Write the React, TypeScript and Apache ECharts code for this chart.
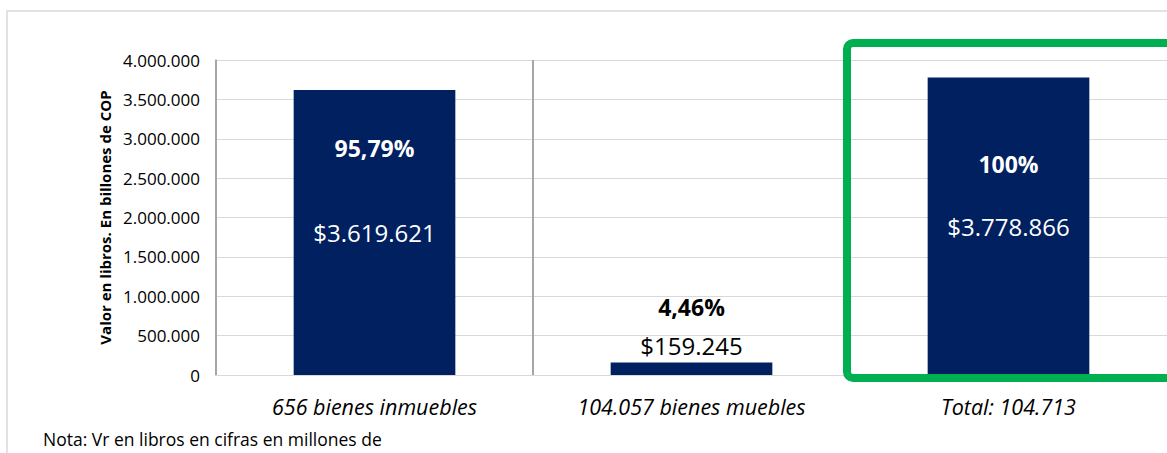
import React, { useEffect, useRef } from "react";
import * as echarts from "echarts";

const categories = ["656 bienes inmuebles", "104.057 bienes muebles", "Total: 104.713"];
const values = [3619621, 159245, 3778866];
const percents = [95.79, 4.46, 100];
const yMin = 0;
const yMax = 4000000;
const yInterval = 500000;
const yAxisTitle = "Valor en libros. En billones de COP";
const noteText = "Nota: Vr en libros en cifras en millones de";

const FONT = '"Open Sans", "Noto Sans", sans-serif';
const fmtNum = (n: number) => String(Math.round(n)).replace(/\B(?=(\d{3})+(?!\d))/g, ".");
const fmtPct = (p: number) => String(p).replace(".", ",") + "%";

export default function App() {
  const ref = useRef<HTMLDivElement>(null);
  useEffect(() => {
    if (!ref.current) return;
    const chart = echarts.init(ref.current, null, { renderer: "svg" });
    const pctLabelPlacement = [
      { position: "insideTop", distance: 47, color: "#ffffff" },
      { position: "top", distance: 44, color: "#000000" },
      { position: "insideTop", distance: 75, color: "#ffffff" },
    ];
    chart.setOption({
      animation: false,
      backgroundColor: "#ffffff",
      textStyle: { fontFamily: FONT },
      grid: { left: 216, right: -1.5, top: 60, bottom: 78, containLabel: false },
      xAxis: {
        type: "category",
        data: categories,
        boundaryGap: true,
        axisLine: { show: true, lineStyle: { color: "#d9d9d9", width: 1 } },
        axisTick: { show: false },
        axisLabel: {
          margin: 20,
          fontFamily: FONT,
          fontSize: 21.5,
          fontStyle: "italic",
          color: "#000000",
        },
        splitLine: { show: true, showMinLine: true, showMaxLine: false, lineStyle: { color: "#a6a6a6", width: 2 } },
      },
      yAxis: {
        type: "value",
        min: yMin,
        max: yMax,
        interval: yInterval,
        name: yAxisTitle,
        nameLocation: "middle",
        nameGap: 100,
        nameTextStyle: { fontFamily: FONT, fontSize: 15, fontWeight: "bold", color: "#000000" },
        axisLine: { show: true, lineStyle: { color: "#a6a6a6", width: 1.5 } },
        axisTick: { show: false },
        axisLabel: {
          margin: 16,
          fontFamily: FONT,
          fontSize: 17,
          color: "#000000",
          formatter: (v: number) => fmtNum(v),
        },
        splitLine: { show: true, lineStyle: { color: "#d9d9d9", width: 1 } },
      },
      series: [
        {
          type: "bar",
          barWidth: "51%",
          itemStyle: { color: "#002060" },
          data: values.map((v) => ({
            value: v,
            label:
              v > yMax / 4
                ? { show: true, position: "inside", color: "#ffffff" }
                : { show: true, position: "top", distance: 5, color: "#000000" },
          })),
          label: {
            show: true,
            fontFamily: FONT,
            fontSize: 24,
            formatter: (p: any) => "$" + fmtNum(p.value),
          },
          z: 2,
        },
        {
          type: "bar",
          barWidth: "51%",
          barGap: "-100%",
          itemStyle: { color: "rgba(0,0,0,0)" },
          silent: true,
          data: values.map((v, i) => ({
            value: v,
            label: { show: true, ...pctLabelPlacement[i] },
          })),
          label: {
            show: true,
            fontFamily: FONT,
            fontSize: 23,
            fontWeight: "bold",
            formatter: (p: any) => fmtPct(percents[p.dataIndex]),
          },
          z: 3,
        },
      ],
      graphic: [
        {
          type: "rect",
          silent: true,
          z: -10,
          shape: { x: 7, y: 11, width: 1400, height: 700 },
          style: { fill: "none", stroke: "#d9d9d9", lineWidth: 1.5 },
        },
        {
          type: "rect",
          silent: true,
          z: 100,
          shape: { x: 847, y: 43, width: 500, height: 335, r: 6 },
          style: { fill: "none", stroke: "#00b050", lineWidth: 8 },
        },
        {
          type: "text",
          silent: true,
          x: 43,
          y: 439,
          style: {
            text: noteText,
            font: `17.5px ${FONT}`,
            fill: "#000000",
            verticalAlign: "middle",
          },
        },
      ],
    });
    return () => chart.dispose();
  }, []);
  return (
    <div
      ref={ref}
      style={{ position: "fixed", left: 0, top: 0, width: 1167, height: 453, background: "#fff" }}
    />
  );
}
